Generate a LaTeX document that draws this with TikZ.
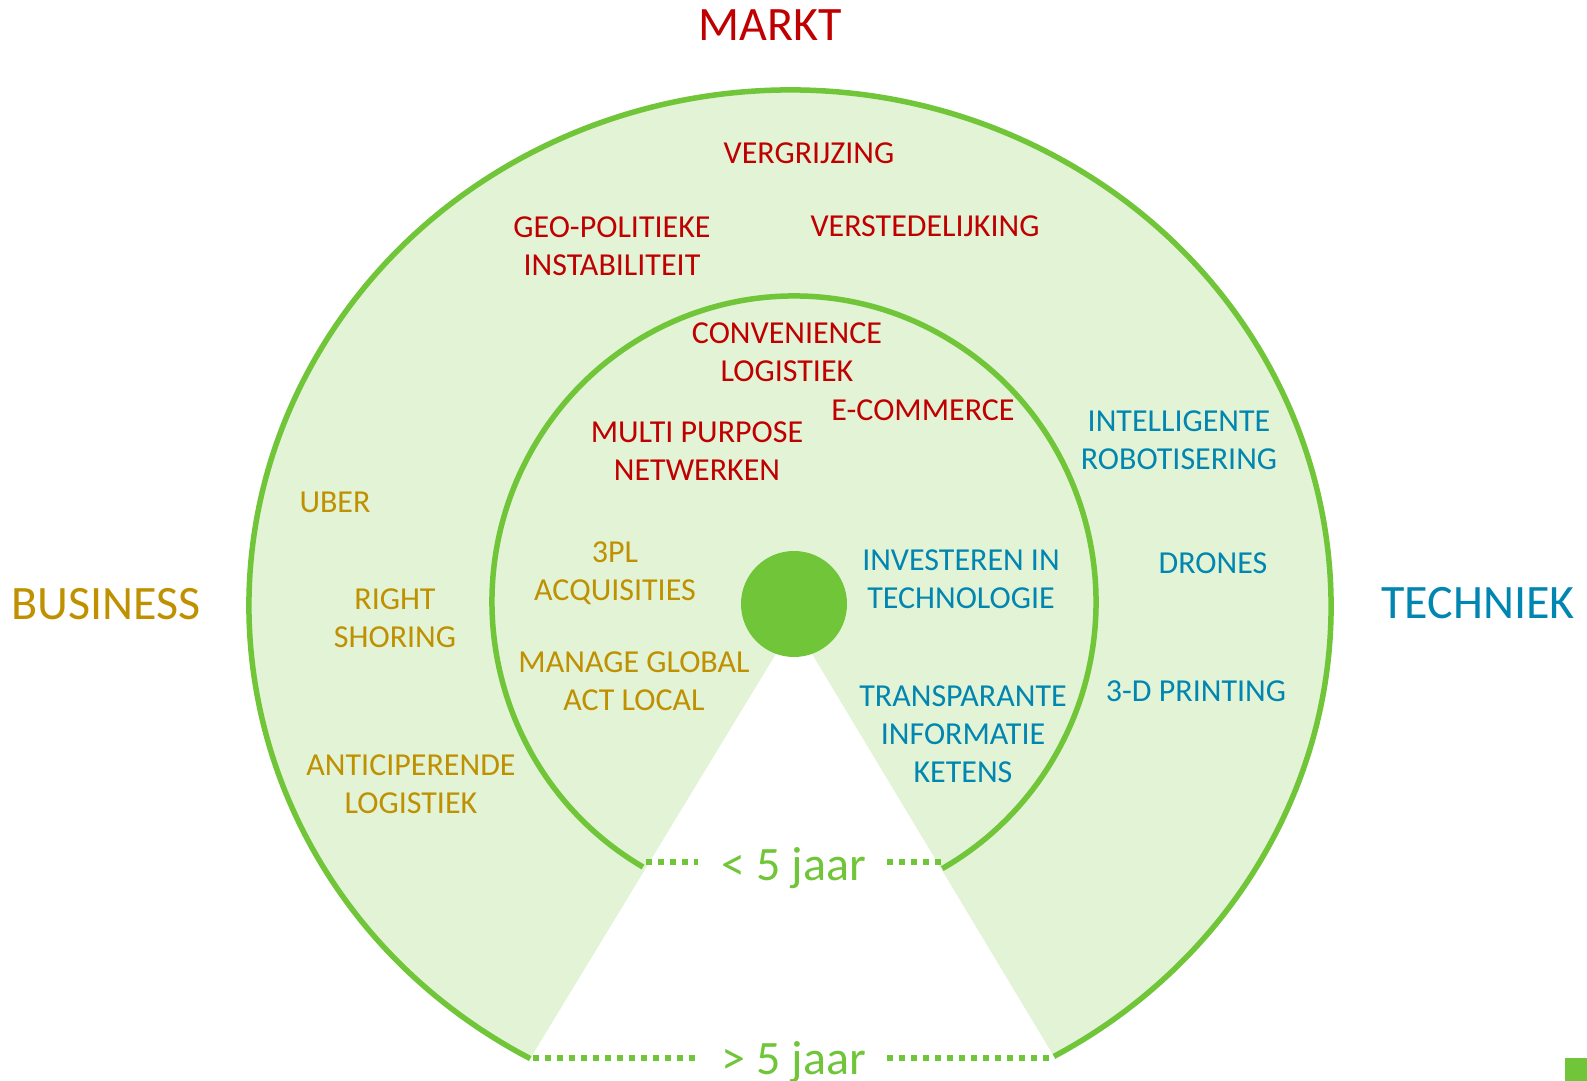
\documentclass[tikz,border=0pt]{standalone}
\usepackage{fontspec}
\setmainfont{Carlito}
\usetikzlibrary{calc}
\definecolor{ringgreen}{RGB}{112,197,56}
\definecolor{fillgreen}{RGB}{226,243,214}
\definecolor{mred}{RGB}{192,0,0}
\definecolor{mgold}{RGB}{191,144,0}
\definecolor{mblue}{RGB}{0,134,176}
\begin{document}
\begin{tikzpicture}[x=1pt,y=1pt,
  ring/.style={draw=ringgreen,line width=5.5pt},
  dotline/.style={draw=ringgreen,line width=6pt,dash pattern=on 6pt off 6pt},
  lbl/.style={inner sep=0pt,align=center,font=\fontsize{32}{38}\selectfont},
  tred/.style={lbl,text=mred},
  tgold/.style={lbl,text=mgold},
  tblue/.style={lbl,text=mblue},
  axis/.style={inner sep=0pt,font=\fontsize{48}{52}\selectfont},
  yrs/.style={inner sep=0pt,text=ringgreen,font=\fontsize{48}{52}\selectfont}]
\useasboundingbox (0,0) rectangle (1587,1081);
% centres and end points
\coordinate (OC) at (790,475);
\coordinate (IC) at (794,479);
\coordinate (OL) at ($(OC)+(241.3:541pt and 516pt)$);
\coordinate (IL) at ($(IC)+(240:302pt and 306pt)$);
\coordinate (apex) at (794,457);
% shaded ring sector
\fill[fillgreen] (OL) arc[start angle=241.3, end angle=-60.8, x radius=541pt, y radius=516pt] -- (apex) -- cycle;
% rings
\draw[ring] (OL) arc[start angle=241.3, end angle=-60.8, x radius=541pt, y radius=516pt];
\draw[ring] (IL) arc[start angle=240, end angle=-60.6, x radius=302pt, y radius=306pt];
% centre dot
\node[circle,fill=ringgreen,minimum size=106pt,inner sep=0pt] (dot) at (794,477) {};
% dotted lines
\coordinate (u1) at (646,219);
\coordinate (u2) at (698,219);
\coordinate (u3) at (887,219);
\coordinate (u4) at (942,219);
\coordinate (b1) at (533,23);
\coordinate (b2) at (699,23);
\coordinate (b3) at (887,23);
\coordinate (b4) at (1054,23);
\draw[dotline] (u1) -- (u2);
\draw[dotline] (u3) -- (u4);
\draw[dotline] (b1) -- (b2);
\draw[dotline] (b3) -- (b4);
\node[yrs] (lt5) at (794,213) {< 5 jaar};
\node[yrs] (gt5) at (794,19) {> 5 jaar};
% axis titles
\node[axis,text=mred] (markt) at (770,1056) {MARKT};
\node[axis,text=mgold] (business) at (106,477) {BUSINESS};
\node[axis,text=mblue] (techniek) at (1478,478) {TECHNIEK};
% market labels
\node[tred] (vergr) at (809,928) {VERGRIJZING};
\node[tred] (geo) at (612,835) {GEO-POLITIEKE\\INSTABILITEIT};
\node[tred] (verst) at (925,855) {VERSTEDELIJKING};
\node[tred] (conv) at (787,729) {CONVENIENCE\\LOGISTIEK};
\node[tred] (ecom) at (923,671) {E-COMMERCE};
\node[tred] (multi) at (697,630) {MULTI PURPOSE\\NETWERKEN};
% business labels
\node[tgold] (uber) at (335,579) {UBER};
\node[tgold] (tpl) at (615,508) {3PL\\ACQUISITIES};
\node[tgold] (right) at (395,463) {RIGHT\\SHORING};
\node[tgold] (manage) at (634,400) {MANAGE GLOBAL\\ACT LOCAL};
\node[tgold] (antic) at (411,297) {ANTICIPERENDE\\LOGISTIEK};
% technique labels
\node[tblue] (intel) at (1179,641) {INTELLIGENTE\\ROBOTISERING};
\node[tblue] (inv) at (961,502) {INVESTEREN IN\\TECHNOLOGIE};
\node[tblue] (drones) at (1213,518) {DRONES};
\node[tblue] (print) at (1196,390) {3-D PRINTING};
\node[tblue] (transp) at (963,347) {TRANSPARANTE\\INFORMATIE\\KETENS};
% small square
\fill[ringgreen] (1565,0) rectangle (1587,23);
\end{tikzpicture}
\end{document}
